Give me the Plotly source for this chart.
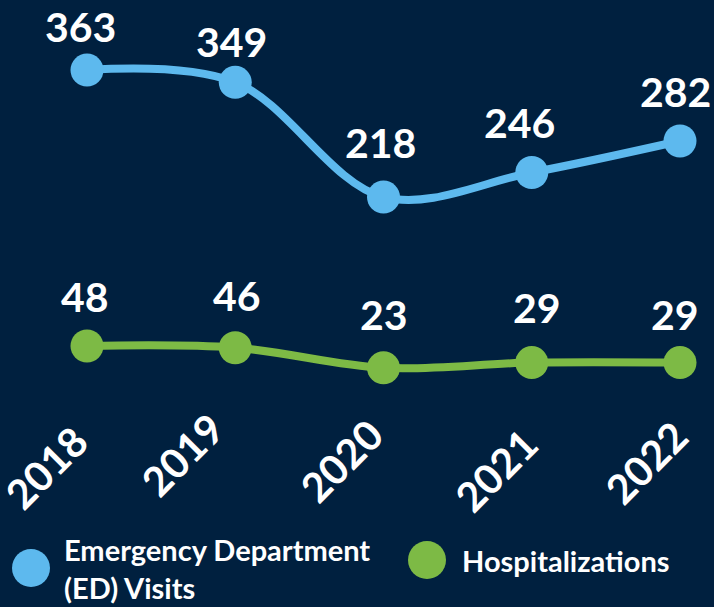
import plotly.graph_objects as go

years = [2018, 2019, 2020, 2021, 2022]
year_labels = ["2018", "2019", "2020", "2021", "2022"]
ed_visits = [363, 349, 218, 246, 282]
hospitalizations = [48, 46, 23, 29, 29]
series_names = ["Emergency Department<br>(ED) Visits", "Hospitalizations"]

BG = "#00203F"
BLUE = "#5DB9EE"
GREEN = "#7DBA45"
FONT = "Lato"

W, H = 714, 607
ML, MR, MT, MB = 0, 0, 0, 219
PH = H - MT - MB

# label offsets (style), pixels above points
ed_shift = [44, 41, 55, 50, 50]
ed_xshift = [-7, -4, -3, -12, -5]
ho_shift = [49, 52, 53, 55, 48]
ho_xshift = [-2, 2, 0, 5, -5]
# tick label placement (style): right-edge shift and top pixel
tick_xshift = [13, 1, 12, 18, 20]
tick_top = [414, 401, 407, 417, 409]

fig = go.Figure()
for vals, color in [(ed_visits, BLUE), (hospitalizations, GREEN)]:
    fig.add_trace(go.Scatter(
        x=years, y=vals, mode="lines+markers",
        line=dict(color=color, width=8, shape="spline", smoothing=1.0),
        marker=dict(color=color, size=33),
        showlegend=False, hoverinfo="skip", cliponaxis=False,
    ))

annotations = []
for vals, ys, xs in [(ed_visits, ed_shift, ed_xshift), (hospitalizations, ho_shift, ho_xshift)]:
    for x, v, s, dx in zip(years, vals, ys, xs):
        annotations.append(dict(
            x=x, y=v, xref="x", yref="y", text=f"<b>{v}</b>", showarrow=False,
            yshift=s, xshift=dx, font=dict(family=FONT, size=41, color="white", weight=900),
        ))

def px_to_paper(px, py):
    return (px - ML) / (W - ML - MR), 1 - (py - MT) / PH

# x-axis category labels, rotated
for x, lab, dx, top in zip(years, year_labels, tick_xshift, tick_top):
    _, py = px_to_paper(0, top)
    annotations.append(dict(
        x=x, y=py, xref="x", yref="paper", text=f"<b>{lab}</b>", showarrow=False,
        xanchor="right", yanchor="top", textangle=-45, xshift=dx,
        font=dict(family=FONT, size=41, color="white", weight=900),
    ))

# manual legend
legend_items = [(31, 568, 62, series_names[0], BLUE), (427, 560, 460, series_names[1], GREEN)]
shapes = []
for cx, cy, tx, name, color in legend_items:
    x0, y0 = px_to_paper(cx - 19, cy - 19)
    x1, y1 = px_to_paper(cx + 19, cy + 19)
    shapes.append(dict(type="circle", xref="paper", yref="paper", x0=x0, y0=y1, x1=x1, y1=y0,
                       fillcolor=color, line=dict(width=0)))
    ax, ay = px_to_paper(tx, cy)
    annotations.append(dict(x=ax, y=ay, xref="paper", yref="paper", xanchor="left", yanchor="middle",
                            text=f"<b>{name}</b>", showarrow=False, align="left",
                            font=dict(family=FONT, size=29, color="white", weight=900)))

x0 = 2018 - 87 / 148.25
x1 = x0 + W / 148.25
fig.update_layout(
    width=W, height=H,
    margin=dict(l=ML, r=MR, t=MT, b=MB),
    paper_bgcolor=BG, plot_bgcolor=BG,
    xaxis=dict(range=[x0, x1], showticklabels=False, showgrid=False, zeroline=False, showline=False,
               ticks=""),
    yaxis=dict(range=[0, 443], visible=False, showgrid=False),
    annotations=annotations, shapes=shapes,
)
fig.write_html("out.html", config={"displayModeBar": False},
               post_script="document.body.style.margin='0';document.body.style.background='#00203F';")
